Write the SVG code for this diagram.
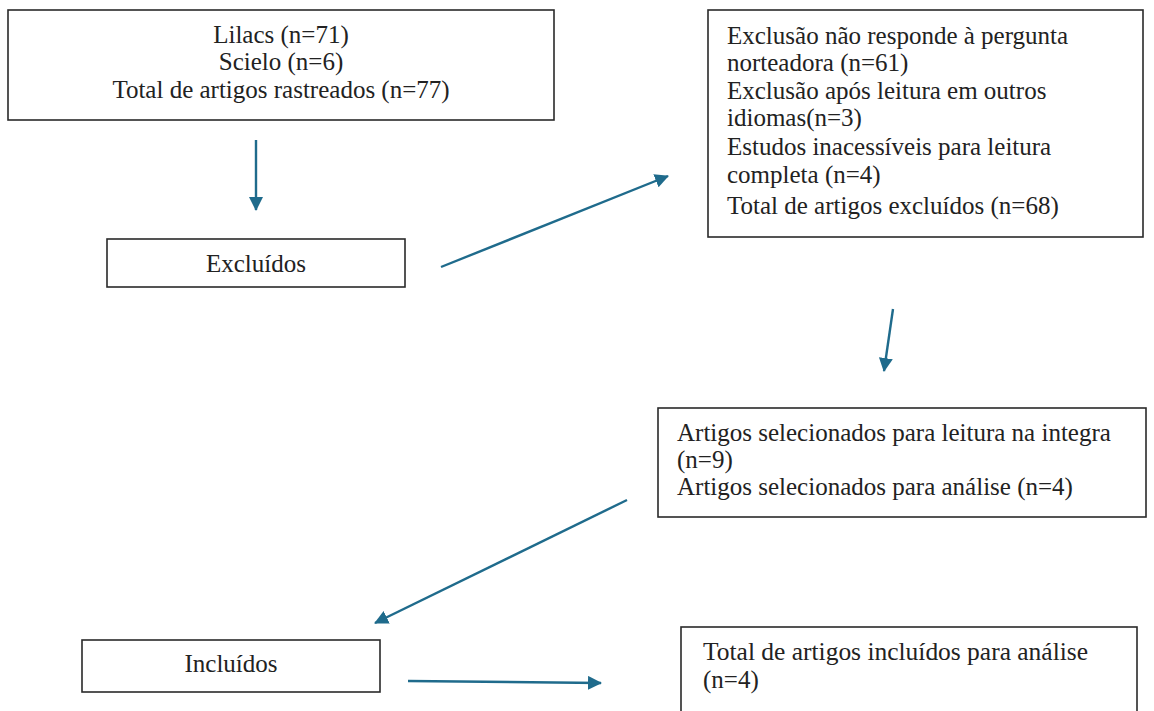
<svg xmlns="http://www.w3.org/2000/svg" width="1154" height="711" viewBox="0 0 1154 711">
<style>
.box{fill:#fff;stroke:#2a2a2a;stroke-width:1.6}
.t{font-family:'Liberation Serif','Times New Roman',Times,serif;font-size:25px;fill:#222}
.c{text-anchor:middle}
.con{stroke:#1f6b8c;stroke-width:2.4;fill:none;marker-end:url(#ah)}
</style>
<defs>
<marker id="ah" markerUnits="userSpaceOnUse" markerWidth="16" markerHeight="16" refX="13" refY="7" orient="auto">
<path d="M0,0 L14,7 L0,14 Z" fill="#1f6b8c"/>
</marker>
</defs>
<rect width="1154" height="711" fill="#fff"/>
<g id="n1">
<rect class="box" x="8" y="10" width="546" height="110"/>
<text class="t c" x="281" y="43">Lilacs (n=71)</text>
<text class="t c" x="281" y="70">Scielo (n=6)</text>
<text class="t c" x="281" y="98">Total de artigos rastreados (n=77)</text>
</g>
<g id="n2">
<rect class="box" x="107" y="239" width="298" height="48"/>
<text class="t c" x="256" y="272">Excluídos</text>
</g>
<g id="n3">
<rect class="box" x="708" y="10" width="435" height="227"/>
<text class="t" x="727" y="44">Exclusão não responde à pergunta</text>
<text class="t" x="727" y="71">norteadora (n=61)</text>
<text class="t" x="727" y="99">Exclusão após leitura em outros</text>
<text class="t" x="727" y="126">idiomas(n=3)</text>
<text class="t" x="727" y="155">Estudos inacessíveis para leitura</text>
<text class="t" x="727" y="183">completa (n=4)</text>
<text class="t" x="727" y="214">Total de artigos excluídos (n=68)</text>
</g>
<g id="n4">
<rect class="box" x="658" y="408" width="488" height="109"/>
<text class="t" x="677" y="441">Artigos selecionados para leitura na integra</text>
<text class="t" x="677" y="468">(n=9)</text>
<text class="t" x="677" y="495">Artigos selecionados para análise (n=4)</text>
</g>
<g id="n5">
<rect class="box" x="82" y="640" width="298" height="52"/>
<text class="t c" x="231" y="672">Incluídos</text>
</g>
<g id="n6">
<rect class="box" x="681" y="627" width="456" height="90"/>
<text class="t" x="703" y="660" textLength="385" lengthAdjust="spacingAndGlyphs">Total de artigos incluídos para análise</text>
<text class="t" x="703" y="688">(n=4)</text>
</g>
<g id="connectors">
<line class="con" x1="256" y1="140" x2="256" y2="210"/>
<line class="con" x1="441" y1="267" x2="668" y2="176"/>
<line class="con" x1="893" y1="309" x2="884" y2="371"/>
<line class="con" x1="627" y1="500" x2="375" y2="623"/>
<line class="con" x1="408" y1="681" x2="601" y2="683"/>
</g>
</svg>
